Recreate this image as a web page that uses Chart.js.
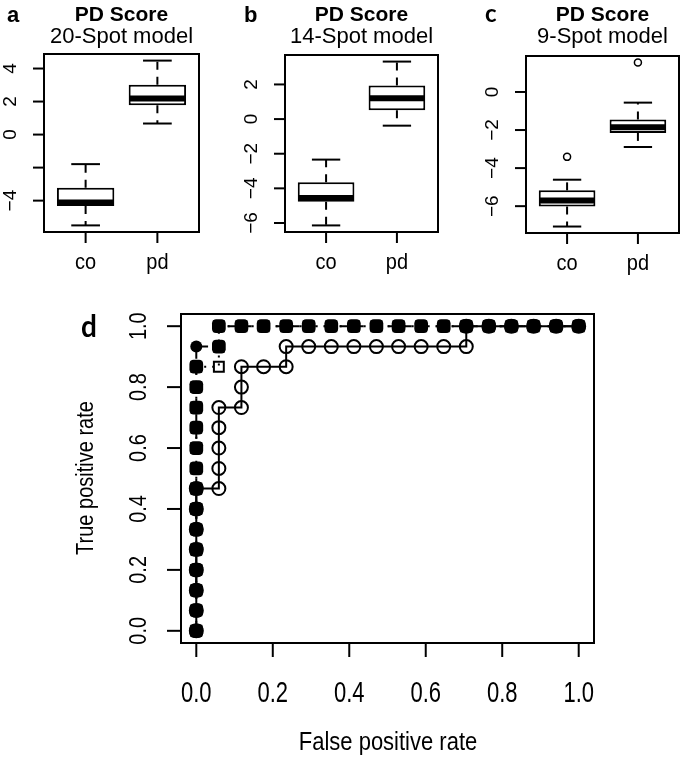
<!DOCTYPE html>
<html>
<head>
<meta charset="utf-8">
<script src="https://cdn.jsdelivr.net/npm/chart.js@4.4.1/dist/chart.umd.min.js"></script>
<style>
  html, body { margin: 0; padding: 0; background: #fff; }
  #wrap { position: relative; width: 685px; height: 757px; }
  #wrap canvas { position: absolute; left: 0; top: 0; }
</style>
</head>
<body>
<div id="wrap">
  <canvas id="boxA" width="685" height="757"></canvas>
  <canvas id="boxB" width="685" height="757"></canvas>
  <canvas id="boxC" width="685" height="757"></canvas>
  <canvas id="roc" width="685" height="757"></canvas>
</div>
<script>
// ---- data ----
// boxplot groups
const groups = ['co', 'pd'];
const groupPos = [1, 2];

// [lower whisker, q1, median, q3, upper whisker]
const spot20Co = [-5.50, -4.32, -4.12, -3.22, -1.79];
const spot20Pd = [0.67, 1.77, 2.18, 3.02, 4.48];
const spot14Co = [-6.14, -4.78, -4.56, -3.65, -2.34];
const spot14Pd = [-0.38, 0.51, 1.20, 1.94, 3.32];
const spot9Co = [-7.07, -6.02, -5.70, -5.17, -4.61];
const spot9Pd = [-2.89, -2.15, -1.85, -1.44, -0.56];
// outliers (9-spot only)
const spot9OutCo = [-3.41];
const spot9OutPd = [1.55];

// y tick values / labels of the boxplots
const ticks20 = [-4, -2, 0, 2, 4];
const labels20 = ['\u22124', '', '0', '2', '4'];
const ticks14 = [-6, -4, -2, 0, 2];
const labels14 = ['\u22126', '\u22124', '\u22122', '0', '2'];
const ticks9 = [-6, -4, -2, 0];
const labels9 = ['\u22126', '\u22124', '\u22122', '0'];

// ROC curves (false positive rate / true positive rate)
const fprFilled = [0, 0, 0, 0, 0, 0, 0, 0, 0, 0, 0, 0, 0, 0, 0,
  0.059, 0.059, 0.118, 0.176, 0.235, 0.294, 0.353, 0.412, 0.471, 0.529, 0.588, 0.647, 0.706, 0.765, 0.824, 0.882, 0.941, 1.0];
const tprFilled = [0, 0.067, 0.133, 0.2, 0.267, 0.333, 0.4, 0.467, 0.533, 0.6, 0.667, 0.733, 0.8, 0.867, 0.933,
  0.933, 1, 1, 1, 1, 1, 1, 1, 1, 1, 1, 1, 1, 1, 1, 1, 1, 1];

const fprOpenSq = [0, 0, 0, 0, 0, 0, 0, 0, 0, 0, 0, 0, 0, 0,
  0.059, 0.059, 0.059, 0.118, 0.176, 0.235, 0.294, 0.353, 0.412, 0.471, 0.529, 0.588, 0.647, 0.706, 0.765, 0.824, 0.882, 0.941, 1.0];
const tprOpenSq = [0, 0.067, 0.133, 0.2, 0.267, 0.333, 0.4, 0.467, 0.533, 0.6, 0.667, 0.733, 0.8, 0.867,
  0.867, 0.933, 1, 1, 1, 1, 1, 1, 1, 1, 1, 1, 1, 1, 1, 1, 1, 1, 1];

const fprOpenCi = [0, 0, 0, 0, 0, 0, 0, 0,
  0.059, 0.059, 0.059, 0.059, 0.059,
  0.118, 0.118, 0.118,
  0.176, 0.235,
  0.235, 0.294, 0.353, 0.412, 0.471, 0.529, 0.588, 0.647, 0.706,
  0.706, 0.765, 0.824, 0.882, 0.941, 1.0];
const tprOpenCi = [0, 0.067, 0.133, 0.2, 0.267, 0.333, 0.4, 0.467,
  0.467, 0.533, 0.6, 0.667, 0.733,
  0.733, 0.8, 0.867,
  0.867, 0.867,
  0.933, 0.933, 0.933, 0.933, 0.933, 0.933, 0.933, 0.933, 0.933,
  1, 1, 1, 1, 1, 1];

const rocTicks = [0, 0.2, 0.4, 0.6, 0.8, 1.0];
const rocLabels = ['0.0', '0.2', '0.4', '0.6', '0.8', '1.0'];

// ---- helpers ----
const FONT = '"Liberation Sans", Arial, sans-serif';
Chart.defaults.font.family = FONT;
Chart.defaults.color = '#000';

// frame, ticks and text drawn R-style
const rAxes = {
  id: 'rAxes',
  afterDraw(chart, args, o) {
    const { ctx, chartArea: a, scales: { x, y } } = chart;
    ctx.save();
    ctx.strokeStyle = '#000';
    ctx.fillStyle = '#000';
    ctx.lineWidth = 2;
    ctx.setLineDash([]);
    ctx.strokeRect(a.left, a.top, a.right - a.left, a.bottom - a.top);

    ctx.font = o.xFont;
    ctx.textAlign = 'center';
    ctx.textBaseline = 'alphabetic';
    o.xTicks.forEach((v, i) => {
      const px = x.getPixelForValue(v);
      ctx.beginPath();
      ctx.moveTo(px, a.bottom);
      ctx.lineTo(px, a.bottom + o.tickLen);
      ctx.stroke();
      ctx.save();
      ctx.translate(px, a.bottom + o.xLabelOffset);
      ctx.scale(1, o.xStretch || 1);
      ctx.fillText(o.xLabels[i], 0, 0);
      ctx.restore();
    });

    ctx.font = o.yFont;
    o.yTicks.forEach((v, i) => {
      const py = y.getPixelForValue(v);
      ctx.beginPath();
      ctx.moveTo(a.left, py);
      ctx.lineTo(a.left - o.tickLen, py);
      ctx.stroke();
      if (o.yLabels[i]) {
        ctx.save();
        ctx.translate(a.left - o.yLabelOffset, py);
        ctx.rotate(-Math.PI / 2);
        ctx.scale(1, o.yStretch || 1);
        ctx.textBaseline = 'middle';
        ctx.fillText(o.yLabels[i], 0, 0);
        ctx.restore();
      }
    });

    (o.texts || []).forEach(t => {
      ctx.save();
      ctx.font = t.font;
      ctx.textAlign = t.align || 'center';
      ctx.textBaseline = t.baseline || 'alphabetic';
      ctx.translate(t.x, t.y);
      if (t.rotate) ctx.rotate(t.rotate);
      if (t.stretch) ctx.scale(1, t.stretch);
      ctx.fillText(t.text, 0, 0);
      ctx.restore();
    });
    ctx.restore();
  }
};

// whiskers, staples and median of each box
const boxParts = {
  id: 'boxParts',
  afterDatasetsDraw(chart, args, o) {
    const { ctx, scales: { y } } = chart;
    const bars = chart.getDatasetMeta(0).data;
    ctx.save();
    ctx.strokeStyle = '#000';
    const seg = (x1, y1, x2, y2) => { ctx.beginPath(); ctx.moveTo(x1, y1); ctx.lineTo(x2, y2); ctx.stroke(); };
    o.stats.forEach((s, i) => {
      const bar = bars[i];
      const cx = bar.x, w = bar.width;
      const [lo, q1, med, q3, hi] = s.map(v => y.getPixelForValue(v));
      ctx.lineWidth = 2;
      ctx.setLineDash([8, 7]);
      seg(cx, q3, cx, hi);
      seg(cx, q1, cx, lo);
      ctx.setLineDash([]);
      seg(cx - w / 4, hi, cx + w / 4, hi);
      seg(cx - w / 4, lo, cx + w / 4, lo);
      ctx.lineWidth = 6;
      seg(cx - w / 2 + 1, med, cx + w / 2 - 1, med);
    });
    ctx.restore();
  }
};

function boxChart(id, co, pd, outCo, outPd, yMin, yMax, yTicks, yLabels, pad, title, letter, letterFont, letterX) {
  const datasets = [{
    type: 'bar',
    data: [co, pd].map((s, i) => ({ x: groupPos[i], y: [s[1], s[3]] })),
    backgroundColor: '#fff',
    borderColor: '#000',
    borderWidth: 2,
    borderSkipped: false,
    barPercentage: 0.8,
    categoryPercentage: 1
  }];
  if (outCo.length || outPd.length) {
    datasets.push({
      type: 'scatter',
      data: outCo.map(v => ({ x: groupPos[0], y: v })).concat(outPd.map(v => ({ x: groupPos[1], y: v }))),
      pointStyle: 'circle',
      pointRadius: 3.5,
      borderColor: '#000',
      borderWidth: 1.5,
      backgroundColor: 'rgba(0,0,0,0)'
    });
  }
  const cx = (pad.left + (685 - pad.right)) / 2;
  return new Chart(document.getElementById(id), {
    type: 'bar',
    data: { datasets },
    options: {
      responsive: false,
      animation: false,
      devicePixelRatio: 1,
      layout: { padding: pad },
      scales: {
        x: {
          type: 'linear', display: false, min: 0.42, max: 2.58, offset: false,
          afterBuildTicks: s => { s.ticks = groupPos.map(v => ({ value: v })); }
        },
        y: { type: 'linear', display: false, min: yMin, max: yMax }
      },
      plugins: {
        legend: { display: false },
        tooltip: { enabled: false },
        boxParts: { stats: [co, pd] },
        rAxes: {
          xTicks: groupPos, xLabels: groups, yTicks, yLabels,
          tickLen: 11, xLabelOffset: 37, yLabelOffset: 33,
          xFont: '20px ' + FONT, yFont: '19px ' + FONT, xStretch: 1.08,
          texts: [
            { text: 'PD Score', x: cx, y: 21, font: 'bold 21px ' + FONT },
            { text: title, x: cx, y: 43, font: '22px ' + FONT },
            { text: letter, x: letterX, y: 21.5, font: letterFont, align: 'left' }
          ]
        }
      }
    },
    plugins: [boxParts, rAxes]
  });
}

boxChart('boxA', spot20Co, spot20Pd, [], [], -5.90, 4.88, ticks20, labels20,
  { left: 44, right: 486, top: 54, bottom: 525 }, '20-Spot model', 'a', 'bold 22px ' + FONT, 7);
boxChart('boxB', spot14Co, spot14Pd, [], [], -6.52, 3.70, ticks14, labels14,
  { left: 285, right: 247, top: 55, bottom: 525 }, '14-Spot model', 'b', 'bold 22px ' + FONT, 244);
boxChart('boxC', spot9Co, spot9Pd, spot9OutCo, spot9OutPd, -7.41, 1.89, ticks9, labels9,
  { left: 526, right: 6, top: 56, bottom: 524 }, '9-Spot model', 'c', 'bold 24px Lato, ' + FONT, 485);

// ROC panel
const pts = (xs, ys) => xs.map((v, i) => ({ x: v, y: ys[i] }));
new Chart(document.getElementById('roc'), {
  type: 'scatter',
  data: {
    datasets: [
      {
        data: pts(fprFilled, tprFilled),
        showLine: true,
        borderColor: '#000',
        borderWidth: 2,
        borderDash: [8, 8],
        backgroundColor: '#000',
        pointStyle: fprFilled.map((v, i) => (v === 0 && tprFilled[i] === 0.933) ? 'circle' : 'rectRounded'),
        pointRadius: fprFilled.map((v, i) => (v === 0 && tprFilled[i] === 0.933) ? 6 : 8),
        pointBorderWidth: 0
      },
      {
        data: pts(fprOpenCi, tprOpenCi),
        showLine: true,
        borderColor: '#000',
        borderWidth: 2,
        backgroundColor: 'rgba(0,0,0,0)',
        pointStyle: 'circle',
        pointRadius: 6.5,
        pointBorderWidth: 2
      },
      {
        data: pts(fprOpenSq, tprOpenSq),
        showLine: true,
        borderColor: '#000',
        borderWidth: 2,
        borderDash: [2, 6],
        backgroundColor: 'rgba(0,0,0,0)',
        pointStyle: 'rect',
        pointRadius: 7,
        pointBorderWidth: 2
      }
    ]
  },
  options: {
    responsive: false,
    animation: false,
    devicePixelRatio: 1,
    layout: { padding: { left: 181, right: 91, top: 314, bottom: 114 } },
    scales: {
      x: { type: 'linear', display: false, min: -0.04, max: 1.04 },
      y: { type: 'linear', display: false, min: -0.04, max: 1.04 }
    },
    plugins: {
      legend: { display: false },
      tooltip: { enabled: false },
      rAxes: {
        xTicks: rocTicks, xLabels: rocLabels, yTicks: rocTicks, yLabels: rocLabels,
        tickLen: 14, xLabelOffset: 59, yLabelOffset: 41,
        xFont: '22px ' + FONT, yFont: '20px ' + FONT, xStretch: 1.3, yStretch: 1.15,
        texts: [
          { text: 'd', x: 81, y: 337, font: 'bold 28px Lato, ' + FONT, align: 'left', stretch: 1.1 },
          { text: 'True positive rate', x: 87, y: 478, font: '20px ' + FONT, rotate: -Math.PI / 2, baseline: 'middle', stretch: 1.15 },
          { text: 'False positive rate', x: 388, y: 750, font: '22px ' + FONT, stretch: 1.2 }
        ]
      }
    }
  },
  plugins: [rAxes]
});
</script>
</body>
</html>
